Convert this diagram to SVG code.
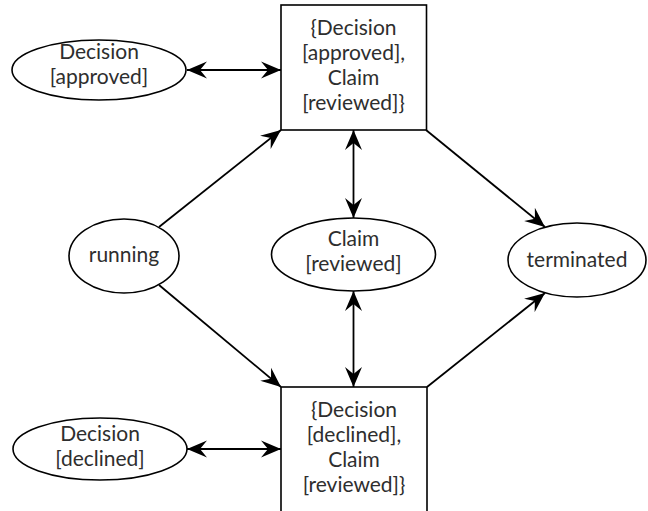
<svg xmlns="http://www.w3.org/2000/svg" width="648" height="511" viewBox="0 0 648 511">
  <style>
    .node { fill: #ffffff; stroke: #000000; stroke-width: 1.6; }
    .label { font-family: Lato, "Open Sans", "DejaVu Sans", sans-serif; font-size: 21px; fill: #2e2e2e; text-anchor: middle; }
    .edge { stroke: #000000; stroke-width: 1.8; fill: none; }
    .fwd { marker-end: url(#head); }
    .both { marker-start: url(#tail); marker-end: url(#head); }
  </style>
  <defs>
    <marker id="head" viewBox="-20 -9 21 18" refX="0" refY="0" markerWidth="21" markerHeight="18" markerUnits="userSpaceOnUse" orient="auto">
      <path d="M0,0 L-20,-8.5 L-13,0 L-20,8.5 Z" fill="#000"/>
    </marker>
    <marker id="tail" viewBox="-1 -9 21 18" refX="0" refY="0" markerWidth="21" markerHeight="18" markerUnits="userSpaceOnUse" orient="auto">
      <path d="M0,0 L20,-8.5 L13,0 L20,8.5 Z" fill="#000"/>
    </marker>
  </defs>

  <g id="connectors">
    <line class="edge both" x1="187" y1="70" x2="281" y2="70"/>
    <line class="edge both" x1="187" y1="449" x2="281" y2="449"/>
    <line class="edge fwd" x1="159" y1="227" x2="281" y2="130"/>
    <line class="edge fwd" x1="159" y1="285" x2="281" y2="387"/>
    <line class="edge fwd" x1="426" y1="130" x2="545" y2="227"/>
    <line class="edge fwd" x1="427" y1="387" x2="545" y2="293"/>
    <line class="edge both" x1="353.5" y1="130" x2="353.5" y2="218"/>
    <line class="edge both" x1="353.5" y1="291" x2="353.5" y2="387"/>
  </g>

  <g id="decision-approved">
    <ellipse class="node" cx="99" cy="70" rx="87" ry="30"/>
    <text class="label" x="99" y="59">Decision</text>
    <text class="label" x="99" y="84">[approved]</text>
  </g>

  <g id="state-approved-reviewed">
    <rect class="node" x="281" y="5" width="145.5" height="125"/>
    <text class="label" x="353.5" y="35">{Decision</text>
    <text class="label" x="353.5" y="60">[approved],</text>
    <text class="label" x="353.5" y="85">Claim</text>
    <text class="label" x="353.5" y="110">[reviewed]}</text>
  </g>

  <g id="running">
    <ellipse class="node" cx="124" cy="256" rx="55" ry="37"/>
    <text class="label" x="124" y="262">running</text>
  </g>

  <g id="claim-reviewed">
    <ellipse class="node" cx="353.5" cy="254.5" rx="82" ry="36.5"/>
    <text class="label" x="353.5" y="246">Claim</text>
    <text class="label" x="353.5" y="271">[reviewed]</text>
  </g>

  <g id="terminated">
    <ellipse class="node" cx="577" cy="260" rx="69" ry="37"/>
    <text class="label" x="577" y="267">terminated</text>
  </g>

  <g id="state-declined-reviewed">
    <rect class="node" x="281" y="387" width="146" height="126"/>
    <text class="label" x="354" y="417">{Decision</text>
    <text class="label" x="354" y="442">[declined],</text>
    <text class="label" x="354" y="467">Claim</text>
    <text class="label" x="354" y="492">[reviewed]}</text>
  </g>

  <g id="decision-declined">
    <ellipse class="node" cx="100" cy="449" rx="87" ry="31"/>
    <text class="label" x="100" y="441">Decision</text>
    <text class="label" x="100" y="466">[declined]</text>
  </g>
</svg>
